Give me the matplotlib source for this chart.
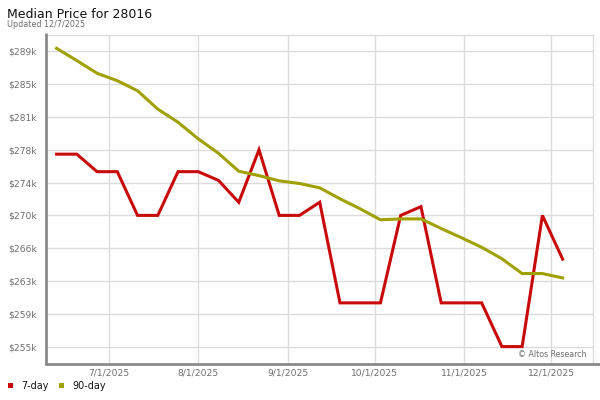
import matplotlib
matplotlib.use("Agg")
import matplotlib.pyplot as plt
import matplotlib.dates as mdates
from matplotlib.lines import Line2D
from matplotlib.patches import Rectangle
import pandas as pd

title = "Median Price for 28016"
subtitle = "Updated 12/7/2025"
credit = "\u00a9 Altos Research"

dates = ["2025-06-13", "2025-06-20", "2025-06-27", "2025-07-04", "2025-07-11",
         "2025-07-18", "2025-07-25", "2025-08-01", "2025-08-08", "2025-08-15",
         "2025-08-22", "2025-08-29", "2025-09-05", "2025-09-12", "2025-09-19",
         "2025-09-26", "2025-10-03", "2025-10-10", "2025-10-17", "2025-10-24",
         "2025-10-31", "2025-11-07", "2025-11-14", "2025-11-21", "2025-11-28",
         "2025-12-05"]

price_7day = [277000, 277000, 275000, 275000, 270000, 270000, 275000, 275000,
              274000, 271500, 277500, 270000, 270000, 271500, 260000, 260000,
              260000, 270000, 271000, 260000, 260000, 260000, 255000, 255000,
              270000, 265000]

price_90day = [289100, 287700, 286250, 285400, 284250, 282150, 280650, 278750,
               277100, 275050, 274550, 273950, 273650, 273150, 271900, 270750,
               269500, 269600, 269600, 268500, 267450, 266350, 265050, 263350,
               263350, 262850]

y_tick_values = [255000, 258750, 262500, 266250, 270000, 273750, 277500,
                 281250, 285000, 288750]
y_tick_labels = ["$255k", "$259k", "$263k", "$266k", "$270k", "$274k",
                 "$278k", "$281k", "$285k", "$289k"]

x_tick_dates = ["2025-07-01", "2025-08-01", "2025-09-01", "2025-10-01",
                "2025-11-01", "2025-12-01"]
x_tick_labels = ["7/1/2025", "8/1/2025", "9/1/2025", "10/1/2025",
                 "11/1/2025", "12/1/2025"]

series_names = ["7-day", "90-day"]
RED = "#c80a0a"
OLIVE = "#a0a000"
GRID = "#dcdcdc"
SPINE = "#858585"
TXT = "#6e6e6e"

x = pd.to_datetime(dates)
xt = pd.to_datetime(x_tick_dates)

fig = plt.figure(figsize=(6, 4), dpi=100)
ax = fig.add_axes([45 / 600, 1 - 363 / 400, 548 / 600, 328 / 400])

ax.plot(x, price_7day, color=RED, lw=2.2, solid_joinstyle="miter", zorder=3)
ax.plot(x, price_90day, color=OLIVE, lw=2.2, solid_joinstyle="miter", zorder=3)

ax.set_xlim(pd.Timestamp("2025-06-09"), pd.Timestamp("2025-12-15 12:00"))
ax.set_ylim(253125, 290625)

ax.set_yticks(y_tick_values)
ax.set_yticklabels(y_tick_labels)
ax.set_xticks(xt)
ax.set_xticklabels(x_tick_labels)
ax.tick_params(axis="both", length=0, labelsize=6.6, colors=TXT)
ax.tick_params(axis="y", pad=6)
ax.tick_params(axis="x", pad=4)

ax.grid(True, color=GRID, lw=1, zorder=0)
for s in ["top", "right"]:
    ax.spines[s].set_color(GRID)
    ax.spines[s].set_linewidth(1)
for s in ["left", "bottom"]:
    ax.spines[s].set_visible(False)

# thick gray axis lines
fig.add_artist(Line2D([45.8 / 600, 45.8 / 600], [1 - 33.3 / 400, 1 - 365 / 400],
                      transform=fig.transFigure, color=SPINE, lw=1.9,
                      solid_capstyle="butt"))
fig.add_artist(Line2D([45 / 600, 1.0], [1 - 364 / 400, 1 - 364 / 400],
                      transform=fig.transFigure, color=SPINE, lw=1.9,
                      solid_capstyle="butt"))

ax.text(0.988, 0.027, credit, transform=ax.transAxes, ha="right", va="center",
        fontsize=5.7, color=TXT)

fig.text(7 / 600, 1 - 18.5 / 400, title, fontsize=9, color="#111111",
         ha="left", va="baseline")
fig.text(7 / 600, 1 - 26.7 / 400, subtitle, fontsize=5.8, color=TXT,
         ha="left", va="baseline")

# legend
leg = [(8.3, series_names[0], RED, 21.7), (59.3, series_names[1], OLIVE, 72.7)]
for sx, name, col, tx in leg:
    fig.add_artist(Rectangle((sx / 600, 1 - 388.3 / 400), 5 / 600, 5 / 400,
                             transform=fig.transFigure, color=col, lw=0))
    fig.text(tx / 600, 1 - 385.8 / 400, name, fontsize=6.9, color="#111111",
             ha="left", va="center")

fig.savefig("out.png", dpi=100)
